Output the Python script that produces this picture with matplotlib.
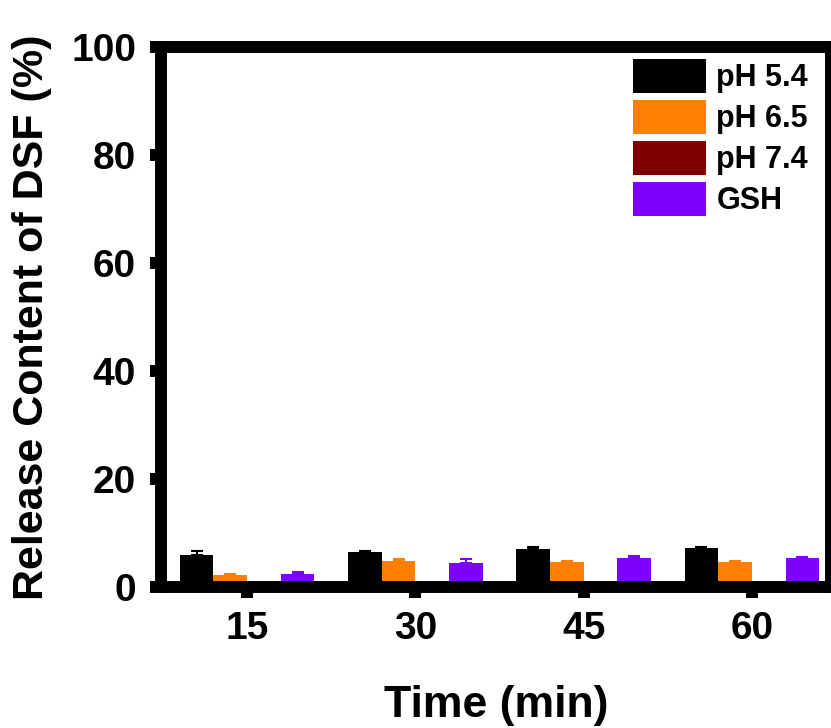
import matplotlib
matplotlib.use("Agg")
import matplotlib.pyplot as plt
from matplotlib.patches import Rectangle
from matplotlib.legend_handler import HandlerPatch
import numpy as np

plt.rcParams['font.family'] = ['Liberation Sans', 'DejaVu Sans']
plt.rcParams['font.weight'] = 'bold'

times = ["15", "30", "45", "60"]
series = ["pH 5.4", "pH 6.5", "pH 7.4", "GSH"]
colors = ["#000000", "#FF8000", "#800000", "#8000FF"]
ph54 = [5.9, 6.5, 7.0, 7.2]
ph54_err = [0.7, 0.2, 0.5, 0.3]
ph65 = [2.2, 4.8, 4.7, 4.7]
ph65_err = [0.3, 0.3, 0.2, 0.2]
ph74 = [0.0, 0.0, 0.0, 0.0]
ph74_err = [0.0, 0.0, 0.0, 0.0]
gsh = [2.4, 4.4, 5.3, 5.3]
gsh_err = [0.4, 0.8, 0.4, 0.2]

values = [ph54, ph65, ph74, gsh]
errors = [ph54_err, ph65_err, ph74_err, gsh_err]

fig = plt.figure(figsize=(8.31, 7.28), dpi=100)
ax = fig.add_axes([161/831, 141/728, 1 - 161/831, (587-47)/728])

x = np.arange(len(times))
w = 0.2
for i, (lab, col, v, e) in enumerate(zip(series, colors, values, errors)):
    pos = x + (i - 1.5) * w
    ax.bar(pos, v, width=w, color=col, label=lab, zorder=2)
    ax.errorbar(pos, v, yerr=[np.zeros(len(e)), e], fmt='none', ecolor=col,
                elinewidth=1.5, capsize=4.5, capthick=1.5, zorder=3)

ax.set_xlim(-0.512, 3.47)
ax.set_ylim(0, 100)
ax.set_yticks([0, 20, 40, 60, 80, 100])
ax.set_xticks(x)
ax.set_xticklabels(times)

for s in ax.spines.values():
    s.set_linewidth(8.6)
    s.set_zorder(4)
    s.set_capstyle('projecting')

ax.tick_params(axis='both', which='major', direction='out', length=8, width=8.6,
               labelsize=28)
ax.tick_params(axis='y', pad=10)
ax.tick_params(axis='x', pad=9)
for t in ax.get_xticklabels() + ax.get_yticklabels():
    t.set_fontweight('bold')

ax.set_xlabel("Time (min)", fontsize=32, fontweight='bold', labelpad=28)
ax.set_ylabel("Release Content of DSF (%)", fontsize=31, fontweight='bold', labelpad=14)


def tall_rect(legend, orig_handle, xdescent, ydescent, width, height, fontsize):
    extra = 0.12 * fontsize
    return Rectangle((-xdescent, -ydescent - extra / 2), width, height + extra)


leg = ax.legend(loc='upper left', bbox_to_anchor=(633/831, 1 - 59/728),
                bbox_transform=fig.transFigure, frameon=False, fontsize=22,
                handlelength=2.4, handleheight=1.33, labelspacing=0.22,
                handletextpad=0.33, borderpad=0, borderaxespad=0,
                handler_map={Rectangle: HandlerPatch(patch_func=tall_rect)})
for t in leg.get_texts():
    t.set_fontweight('bold')

fig.savefig("out.png", dpi=100)
